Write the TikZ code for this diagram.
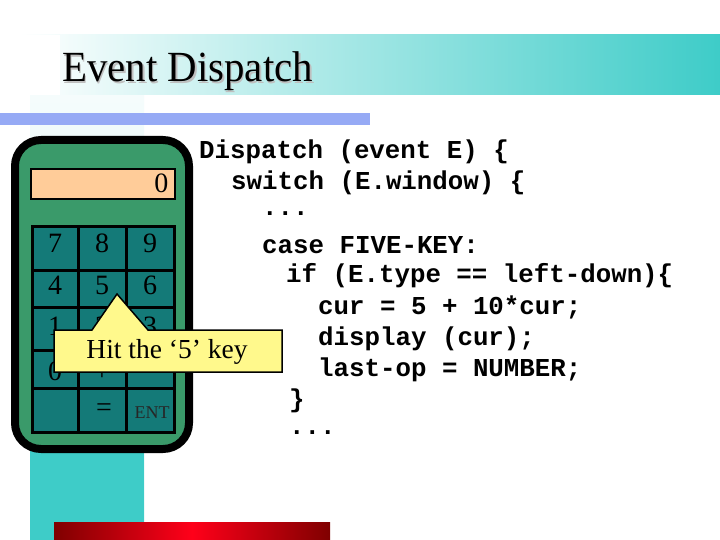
\documentclass[tikz,border=0pt]{standalone}
\usepackage{fontspec}
\setmainfont{Liberation Serif}
\setmonofont{Liberation Mono}
\begin{document}
\begin{tikzpicture}[x=1pt,y=-1pt,
  key/.style={font=\fontsize{28}{28}\selectfont,text=black},
  code/.style={anchor=west,font=\ttfamily\bfseries\fontsize{25.8}{26}\selectfont,inner sep=0}]
\definecolor{teal1}{HTML}{3ECCC8}
\definecolor{calc}{HTML}{3A9A6A}
\definecolor{pad}{HTML}{147A78}
\definecolor{disp}{HTML}{FFCC99}
\definecolor{blu}{HTML}{96AAF5}
\useasboundingbox (0,0) rectangle (720,540);
\fill[white] (0,0) rectangle (720,540);
% title band
\shade[left color=white,right color=teal1] (20,35) rectangle (720,95);
\fill[white] (20,35) rectangle (60,95);
% vertical column
\shade[top color=teal1!5,bottom color=teal1,middle color=teal1!20] (30,96) rectangle (144,540);
\fill[teal1] (30,440) rectangle (144,540);
% blue bar
\fill[blu] (0,113) rectangle (370,125);
% red bar
\shade[left color=red!50!black,right color=red!50!black,middle color=red!90!magenta] (54,522) rectangle (330,540);
% title
\node[anchor=base west,font=\fontsize{43}{43}\selectfont,text=gray!50,inner sep=0,xscale=0.95] at (63.5,83.5) {Event Dispatch};
\node[anchor=base west,font=\fontsize{43}{43}\selectfont,inner sep=0,xscale=0.95] (title) at (62,82) {Event Dispatch};
% calculator
\draw[line width=8,fill=calc,rounded corners=26] (15,140) rectangle (189,449);
\node[draw=black,line width=2,fill=disp,minimum width=144,minimum height=30,anchor=north west] (display) at (30,168) {};
\node[key,anchor=east] at (172,183) {0};
\fill[pad,draw=black,line width=3] (32,227) rectangle (174,432);
\foreach \x in {78,126} \draw[line width=3] (\x,227) -- (\x,432);
\foreach \y in {270,307,350,388} \draw[line width=3] (32,\y) -- (174,\y);
\foreach \t/\x/\y in {7/55/243,8/102/243,9/150/243,4/55/285,5/102/285,6/150/285,1/55/326,2/102/326,3/150/326,0/55/371,+/102/373,-/150/373,=/104/410} \node[key] at (\x,\y) {\t};
\node[font=\fontsize{18}{18}\selectfont,text=black!85] at (152,413) {ENT};
% callout
\draw[line width=1.5,fill=yellow!45] (54,330) -- (92,330) -- (117,294) -- (148,330) -- (282,330) -- (282,372) -- (54,372) -- cycle;
\node[font=\fontsize{27.5}{28}\selectfont] (hit) at (167,352) {Hit the ‘5’ key};
% code
\node[code] at (199,152) {Dispatch (event E) \{};
\node[code] at (231,183) {switch (E.window) \{};
\node[code] at (262,214) {...};
\node[code] at (262,245) {case FIVE-KEY:};
\node[code] at (286,276) {if (E.type == left-down)\{};
\node[code] at (318,307) {cur = 5 + 10*cur;};
\node[code] at (318,339) {display (cur);};
\node[code] at (318,370) {last-op = NUMBER;};
\node[code] at (289,401) {\}};
\node[code] at (289,433) {...};
\end{tikzpicture}
\end{document}
